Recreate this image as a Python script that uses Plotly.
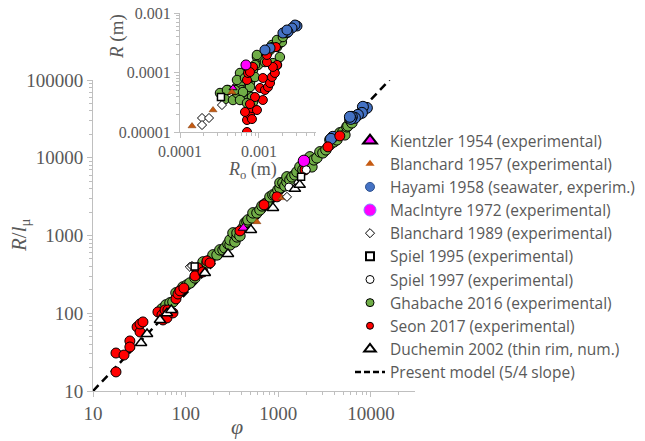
import plotly.graph_objects as go

# ---------------- main panel data (phi, R/l_mu) ----------------
ghab_phi = [55.5, 61.3, 67.7, 72.9, 78.6, 86.8, 93.5, 103, 111, 126, 143, 154, 170, 183, 197,
            218, 234, 253, 265, 286, 301, 301, 324, 340, 358, 358, 385, 415, 436, 458, 470,
            519, 532, 588, 633, 666, 717, 753, 812, 874, 919, 990, 1041, 1041, 1121, 1178,
            1238, 1238, 1334, 1402, 1510, 1587, 1710, 1842, 1936, 2085, 2192, 2304, 2421,
            2609, 2810, 3028, 3262, 3601, 3601, 3979, 4286, 4618, 4976, 5229, 5495, 5634,
            5921, 6223]
ghab_R = [114, 128, 136, 140, 183, 194, 218, 231, 245, 285, 361, 457, 444, 485, 563,
          563, 653, 653, 692, 780, 757, 878, 1080, 827, 959, 1080, 988, 1253, 1453, 1496, 1588,
          1685, 1954, 1954, 2135, 2404, 2551, 2628, 3140, 3331, 3331, 3863, 4100, 4753, 4753, 4350,
          4896, 5677, 5194, 5677, 6025, 6584, 7638, 6987, 8104, 8855, 10270, 7638, 9397,
          9970, 11910, 11570, 12640, 14660, 16990, 16010, 16990, 20920, 21540, 19710, 24980, 25730,
          30740, 28130]

seon_phi = [17.7, 17.7, 21.6, 25, 25, 29.9, 32.2, 32.2, 34.6, 50.2, 55.5, 59.9, 67.7, 56.9,
            62.8, 72.9, 64.3, 78.6, 82.6, 86.8, 95.6, 129, 132, 135, 126, 154, 170, 183, 385,
            700, 966, 1940, 3430, 4610]
seon_R = [17.6, 30.8, 29, 44, 36.8, 66.7, 57.4, 72.8, 77.3, 104, 95, 110, 104, 82,
          87, 101, 110, 153, 177, 194, 211, 311, 330, 383, 302, 340, 471, 444, 1146,
          2477, 3140, 6980, 13800, 19100]

duch_phi = [33, 38.3, 52.8, 62.8, 70, 161, 286, 506, 875, 1510, 1700]
duch_R = [41.5, 54, 82, 100, 110, 330, 580, 1180, 2265, 3980, 4480]

hay_phi = [9030, 8180, 7980, 7220, 6700, 6220, 6060, 5920, 3880, 3700]
hay_R = [43800, 45200, 37800, 35600, 32600, 33600, 31600, 33600, 18600, 17500]

mac_phi = [1890]
mac_R = [9120]

kien_phi = [420]
kien_R = [1250]

bl57_phi = [588, 1094]
bl57_R = [1496, 3048]

bl89_phi = [111, 117, 1240]
bl89_R = [395, 406, 3140]

sp95_phi = [125, 1760]
sp95_R = [400, 5680]

sp97_phi = [1300, 2000]
sp97_R = [4200, 7000]

model_phi = [10, 15850]
model_R = [10, 100000]

# ---------------- inset data (R0 [m], R [m]) ----------------
i_ghab_R0 = [3.21e-4, 4.05e-4, 3.71e-4, 4.69e-4, 5.27e-4, 5.27e-4, 5.75e-4, 6.09e-4, 7.05e-4,
             7.69e-4, 8.15e-4, 8.40e-4, 9.71e-4, 9.43e-4, 1.12e-3, 1.26e-3, 1.38e-3, 1.46e-3,
             1.69e-3, 1.84e-3, 1.69e-3, 1.95e-3, 8.40e-4, 7.26e-4, 4.97e-4, 9.43e-4, 1.50e-3,
             1.69e-3, 2.01e-3, 2.26e-3, 1.50e-3, 1.84e-3, 8.90e-4, 7.05e-4, 5.75e-4, 7.69e-4,
             7.26e-4, 8.15e-4, 3.93e-4, 5.27e-4, 6.27e-4, 5.75e-4, 7.05e-4, 6.65e-4, 1.19e-3,
             8.90e-4]
i_ghab_R = [4.52e-5, 5.08e-5, 3.58e-5, 3.45e-5, 4.52e-5, 5.70e-5, 6.66e-5, 5.08e-5, 5.08e-5,
            6.66e-5, 8.40e-5, 1.10e-4, 1.34e-4, 1.82e-4, 1.75e-4, 2.13e-4, 2.39e-4, 2.90e-4,
            2.68e-4, 3.13e-4, 1.34e-4, 3.26e-4, 3.19e-5, 3.19e-5, 5.08e-5, 1.97e-4, 2.68e-4,
            3.52e-4, 3.95e-4, 4.61e-4, 1.44e-4, 1.82e-4, 8.40e-5, 1.24e-4, 9.81e-5, 5.70e-5,
            3.45e-5, 3.87e-5, 5.08e-5, 7.48e-5, 4.70e-5, 3.45e-5, 3.07e-5, 8.08e-5, 1.50e-4,
            1.34e-4]

i_seon_R0 = [7.05e-4, 7.05e-4, 7.69e-4, 8.15e-4, 9.43e-4, 6.65e-4, 8.15e-4, 1.12e-3, 8.90e-4,
             7.69e-4, 1.03e-3, 1.19e-3, 1.30e-3, 1.38e-3, 1.46e-3, 1.59e-3, 1.69e-3, 1.50e-3,
             1.26e-3, 1.26e-3, 1.64e-3, 7.05e-4, 7.26e-4, 8.40e-4, 7.69e-4, 1.12e-3]
i_seon_R = [1.00e-5, 1.59e-5, 1.93e-5, 2.53e-5, 2.34e-5, 2.17e-5, 1.65e-5, 3.45e-5, 3.87e-5,
            2.95e-5, 5.49e-5, 5.08e-5, 5.70e-5, 6.66e-5, 8.40e-5, 9.81e-5, 1.34e-4, 1.24e-4,
            1.50e-4, 1.97e-4, 2.68e-4, 7.48e-5, 9.81e-5, 1.24e-4, 1.02e-4, 8.08e-5]

i_hay_R0 = [3.03e-3, 2.86e-3, 2.62e-3, 2.33e-3, 2.01e-3, 2.26e-3, 1.38e-3, 1.19e-3]
i_hay_R = [6.05e-4, 6.28e-4, 5.60e-4, 4.79e-4, 4.61e-4, 5.18e-4, 2.58e-4, 2.39e-4]

i_mac_R0 = [6.84e-4]
i_mac_R = [1.34e-4]

i_kien_R0 = [4.69e-4]
i_kien_R = [5.49e-5]

i_bl57_R0 = [1.42e-4, 2.62e-4, 4.55e-4]
i_bl57_R = [1.26e-5, 2.34e-5, 4.70e-5]

i_bl89_R0 = [1.90e-4, 1.90e-4, 2.33e-4, 3.40e-4]
i_bl89_R = [1.72e-5, 1.31e-5, 1.72e-5, 2.84e-5]

i_sp95_R0 = [3.30e-4]
i_sp95_R = [3.87e-5]

legend_names = ["Kientzler 1954 (experimental)", "Blanchard 1957 (experimental)",
                "Hayami 1958 (seawater, experim.)", "MacIntyre 1972 (experimental)",
                "Blanchard 1989 (experimental)", "Spiel 1995 (experimental)",
                "Spiel 1997 (experimental)", "Ghabache 2016 (experimental)",
                "Seon 2017 (experimental)", "Duchemin 2002 (thin rim, num.)",
                "Present model (5/4 slope)"]

GREEN = "#70AD47"
RED = "#FF0000"
BLUE = "#4472C4"
MAG = "#FF00FF"
BROWN = "#C55A11"
WHITE = "#FFFFFF"
TXT = "#595959"
AX = "#BFBFBF"
SERIF = "Liberation Serif"

# page offset of the plot div (default body margin) and plot-area geometry
OFF = 8
L, R_, T, B = 85, 238, 2, 58
W = 645 - L - R_
H = 441 - T - B

def px(s):
    return (s - OFF - L) / W

def py(s):
    return (441 - B - (s - OFF)) / H

fig = go.Figure()

def pts(x, y, xa, ya, symbol, color, size, lw=1, lc="black"):
    fig.add_trace(go.Scatter(x=x, y=y, xaxis=xa, yaxis=ya, mode="markers", showlegend=False,
                             hoverinfo="skip",
                             marker=dict(symbol=symbol, color=color, size=size,
                                         line=dict(color=lc, width=lw))))

# main panel
fig.add_trace(go.Scatter(x=model_phi, y=model_R, mode="lines", showlegend=False,
                         line=dict(color="black", width=2.5, dash="8px,5px")))
pts(ghab_phi, ghab_R, "x", "y", "circle", GREEN, 10.5)
pts(hay_phi, hay_R, "x", "y", "circle", BLUE, 11)
pts(seon_phi, seon_R, "x", "y", "circle", RED, 10)
pts(mac_phi, mac_R, "x", "y", "circle", MAG, 11.5)
pts(sp97_phi, sp97_R, "x", "y", "circle", WHITE, 8)
pts(kien_phi, kien_R, "x", "y", "triangle-up", MAG, 9)
pts(duch_phi, duch_R, "x", "y", "triangle-up", WHITE, 10, lw=1.5)
pts(bl57_phi, bl57_R, "x", "y", "triangle-up", BROWN, 7, lw=0.5, lc="#7a3300")
pts(bl89_phi, bl89_R, "x", "y", "diamond", WHITE, 7)
pts(sp95_phi, sp95_R, "x", "y", "square", WHITE, 7, lw=1.5)

# inset
pts(i_ghab_R0, i_ghab_R, "x2", "y2", "circle", GREEN, 9.5)
pts(i_seon_R0, i_seon_R, "x2", "y2", "circle", RED, 9)
pts(i_hay_R0, i_hay_R, "x2", "y2", "circle", BLUE, 10)
pts(i_mac_R0, i_mac_R, "x2", "y2", "circle", MAG, 10)
pts(i_kien_R0, i_kien_R, "x2", "y2", "triangle-up", MAG, 7)
pts(i_bl57_R0, i_bl57_R, "x2", "y2", "triangle-up", BROWN, 7, lw=0.5, lc="#7a3300")
pts(i_bl89_R0, i_bl89_R, "x2", "y2", "diamond", WHITE, 7)
pts(i_sp95_R0, i_sp95_R, "x2", "y2", "square", WHITE, 7, lw=1.5)

# legend-only entries
leg_styles = [
    dict(symbol="triangle-up", color=MAG, size=12, line=dict(color="black", width=2)),
    dict(symbol="triangle-up", color=BROWN, size=8, line=dict(color=BROWN, width=0)),
    dict(symbol="circle", color=BLUE, size=9, line=dict(color="#2F528F", width=1)),
    dict(symbol="circle", color=MAG, size=12, line=dict(color="#8080ff", width=1)),
    dict(symbol="diamond", color=WHITE, size=7, line=dict(color="black", width=1)),
    dict(symbol="square", color=WHITE, size=8, line=dict(color="black", width=2)),
    dict(symbol="circle", color=WHITE, size=8, line=dict(color="black", width=1)),
    dict(symbol="circle", color=GREEN, size=8, line=dict(color="black", width=1)),
    dict(symbol="circle", color=RED, size=7, line=dict(color="black", width=1)),
    dict(symbol="triangle-up", color=WHITE, size=10, line=dict(color="black", width=2)),
]
for name, st in zip(legend_names[:-1], leg_styles):
    fig.add_trace(go.Scatter(x=[None], y=[None], mode="markers", name=name, marker=st))
fig.add_trace(go.Scatter(x=[None], y=[None], mode="lines", name=legend_names[-1],
                         line=dict(color="black", width=2.5, dash="6px,3px")))

axis_common = dict(type="log", showline=True, linecolor=AX, linewidth=1, ticks="outside",
                   tickcolor=AX, showgrid=False, zeroline=False, mirror=False,
                   automargin=False, tickmode="linear", tick0=0, dtick=1,
                   exponentformat="none", separatethousands=False, ticklen=5,
                   ticklabeloverflow="allow")

def ann(text, x, y, size, angle=0):
    return dict(text=text, xref="paper", yref="paper", x=px(x), y=py(y), showarrow=False,
                textangle=angle, xanchor="center", yanchor="middle",
                font=dict(family=SERIF, size=size, color=TXT))

fig.update_layout(
    width=645, height=441,
    separators=".",
    margin=dict(l=L, r=R_, t=T, b=B, autoexpand=False),
    paper_bgcolor="white", plot_bgcolor="rgba(0,0,0,0)",
    xaxis=dict(**axis_common, range=[1, 4.475], domain=[0, 1], anchor="y",
               tickfont=dict(family=SERIF, size=19, color=TXT),
               minor=dict(dtick="D1", ticks="outside", ticklen=3, tickcolor=AX)),
    yaxis=dict(**axis_common, range=[1, 5], domain=[0, py(80)], anchor="x",
               tickfont=dict(family=SERIF, size=19, color=TXT),
               minor=dict(dtick="D1", ticks="outside", ticklen=3, tickcolor=AX)),
    xaxis2=dict(**axis_common, range=[-4, -2.278], domain=[px(180), px(316)], anchor="y2",
                tickfont=dict(family=SERIF, size=16, color=TXT),
                minor=dict(dtick="D1", ticks="outside", ticklen=3, tickcolor=AX)),
    yaxis2=dict(**axis_common, range=[-5, -3], domain=[py(132), py(13)], anchor="x2",
                tickfont=dict(family=SERIF, size=16, color=TXT),
                minor=dict(dtick="D1", ticks="outside", ticklen=3, tickcolor=AX)),
    legend=dict(x=px(350), y=py(124), xanchor="left", yanchor="top",
                bgcolor="rgba(0,0,0,0)", font=dict(family="Open Sans", size=15.5, color=TXT),
                tracegroupgap=0, itemsizing="trace"),
    annotations=[
        ann("<i>R</i>/<i>l</i><sub>μ</sub>", 20, 235, 21, -90),
        ann("<i>φ</i>", 237, 426, 22),
        ann("<i>R</i> (m)", 117, 37, 19, -90),
        ann("<i>R</i><sub>o</sub> (m)", 252, 170, 18),
    ],
)

fig.write_html("out.html")
